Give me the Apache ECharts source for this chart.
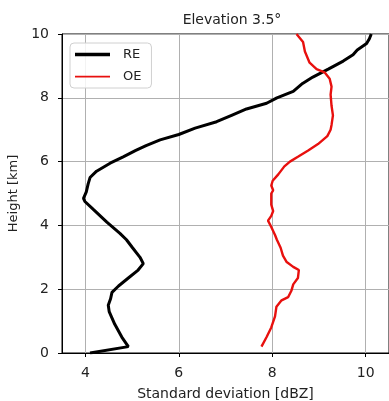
<!DOCTYPE html>
<html>
<head>
<meta charset="utf-8">
<script src="https://cdn.jsdelivr.net/npm/echarts@6/dist/echarts.min.js"></script>
<style>
html,body{margin:0;padding:0;background:#fff;}
#chart{width:389px;height:401px;}
</style>
</head>
<body>
<div id="chart"></div>
<script>
// RE series: heights (km) and standard deviation (dBZ)
const reHeight = [0.0,0.2,0.5,0.9,1.3,1.5,1.7,1.9,2.1,2.35,2.6,2.8,3.0,3.3,3.55,3.75,4.1,4.5,4.75,4.85,5.05,5.3,5.5,5.7,5.95,6.15,6.35,6.5,6.68,6.85,7.05,7.25,7.45,7.65,7.83,8.0,8.2,8.45,8.65,8.9,9.15,9.35,9.5,9.7,9.85,10.0];
const reStd    = [4.10,4.92,4.78,4.63,4.51,4.49,4.54,4.57,4.71,4.92,5.13,5.24,5.17,5.01,4.88,4.74,4.46,4.17,3.99,3.96,4.02,4.06,4.10,4.24,4.53,4.81,5.08,5.30,5.60,6.00,6.35,6.81,7.13,7.45,7.88,8.10,8.45,8.65,8.87,9.20,9.52,9.73,9.82,10.02,10.08,10.12];
// OE series
const oeHeight = [0.2,0.5,0.8,1.15,1.45,1.65,1.75,1.95,2.15,2.35,2.6,2.7,2.85,3.05,3.3,3.55,3.7,3.95,4.15,4.3,4.45,4.65,5.0,5.1,5.25,5.4,5.6,5.85,6.0,6.15,6.35,6.55,6.8,7.0,7.15,7.45,7.75,8.1,8.35,8.6,8.8,8.9,9.1,9.45,9.75,10.0];
const oeStd    = [7.77,7.88,7.98,8.06,8.09,8.20,8.34,8.41,8.45,8.55,8.57,8.45,8.31,8.23,8.18,8.10,8.06,7.98,7.91,7.98,8.02,7.98,7.98,8.02,7.98,8.01,8.13,8.26,8.38,8.55,8.77,8.98,9.18,9.25,9.27,9.30,9.27,9.25,9.27,9.23,9.12,8.95,8.80,8.70,8.66,8.52];
// Tick labels
const xTicks = [4, 6, 8, 10];
const yTicks = [0, 2, 4, 6, 8, 10];

const FONT = 'DejaVu Sans, sans-serif';
const chart = echarts.init(document.getElementById('chart'), null, {renderer: 'canvas'});
const pair = (xs, ys) => xs.map((v, i) => [v, ys[i]]);

chart.setOption({
  animation: false,
  backgroundColor: '#fff',
  title: {
    text: 'Elevation 3.5°',
    left: 227, top: 8, textAlign: 'center',
    textStyle: {fontFamily: FONT, fontSize: 14, fontWeight: 'normal', color: '#222'}
  },
  grid: {left: 62, right: 0, top: 34, bottom: 48, show: true, borderColor: '#000', borderWidth: 1,
         containLabel: false, outerBoundsMode: 'none'},
  legend: {
    orient: 'vertical', left: 70, top: 43,
    padding: [5, 10, 5, 5], itemGap: 9,
    itemWidth: 35, itemHeight: 4,
    borderColor: '#d0d0d0', borderWidth: 1, borderRadius: 4,
    backgroundColor: 'rgba(255,255,255,0.85)',
    textStyle: {fontFamily: FONT, fontSize: 13, color: '#222', padding: [0, 0, 0, 8]},
    data: [
      {name: 'RE', icon: 'path://M0 0H40V4H0Z'},
      {name: 'OE', icon: 'path://M0 1H40V3H0Z M0 0H0.01V0.01H0Z M40 4H39.99V3.99H40Z'}
    ]
  },
  xAxis: {
    type: 'value', min: 3.5, max: 10.5,
    name: 'Standard deviation [dBZ]', nameLocation: 'middle', nameGap: 34,
    nameTextStyle: {fontFamily: FONT, fontSize: 14, color: '#222'},
    axisLine: {show: true, onZero: false, lineStyle: {color: '#000', width: 1}},
    axisTick: {show: true, length: 4, customValues: xTicks, lineStyle: {color: '#000'}},
    axisLabel: {customValues: xTicks, margin: 13, fontFamily: FONT, fontSize: 14, color: '#222'},
    splitLine: {show: true, lineStyle: {color: '#b0b0b0', width: 1}}
  },
  yAxis: {
    type: 'value', min: 0, max: 10, interval: 2,
    name: 'Height [km]', nameLocation: 'middle', nameGap: 40, nameRotate: 90,
    nameTextStyle: {fontFamily: FONT, fontSize: 13, color: '#222'},
    axisLine: {show: true, onZero: false, lineStyle: {color: '#000', width: 1}},
    axisTick: {show: true, length: 4, lineStyle: {color: '#000'}},
    axisLabel: {margin: 13, fontFamily: FONT, fontSize: 14, color: '#222',
      formatter: v => yTicks.includes(v) ? String(v) : ''},
    splitLine: {show: true, lineStyle: {color: '#b0b0b0', width: 1}}
  },
  series: [
    {name: 'RE', type: 'line', data: pair(reStd, reHeight), showSymbol: false, symbol: 'none',
     lineStyle: {color: '#000', width: 3}, itemStyle: {color: '#000'}, z: 3},
    {name: 'OE', type: 'line', data: pair(oeStd, oeHeight), showSymbol: false, symbol: 'none',
     lineStyle: {color: '#e8100e', width: 2.4}, itemStyle: {color: '#e8100e'}, z: 4}
  ]
});
</script>
</body>
</html>
